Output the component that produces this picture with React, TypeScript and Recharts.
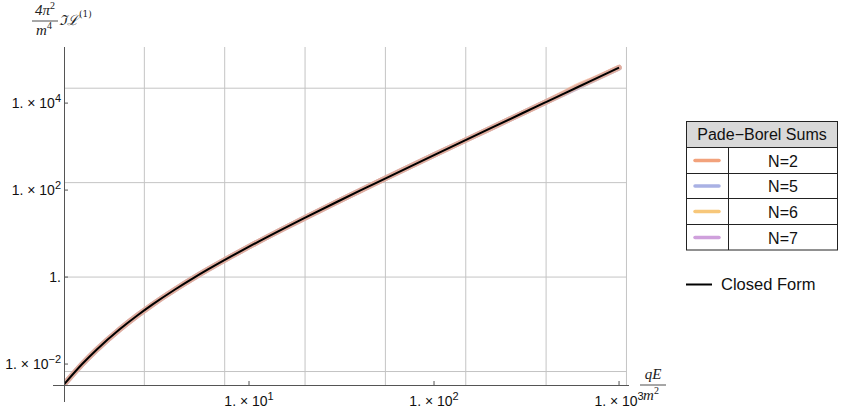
import { LineChart, Line, XAxis, YAxis, ReferenceLine } from 'recharts';

// field strength qE/m^2 (log axis)
const fieldValues = [1, 1.25, 1.5, 2, 2.5, 3, 4, 5, 6, 8, 10, 15, 20, 30, 40, 50, 70, 100, 150, 200, 300, 400, 500, 600, 700, 1000];

// 4pi^2/m^4 Im L(1)
const closedForm = [0.0034, 0.00988, 0.0214, 0.063, 0.1326, 0.2322, 0.525, 0.946, 1.496, 2.986, 4.998, 12.32, 22.91, 53.9, 97.98, 155.2, 308.8, 637.4, 1447, 2584, 5839, 10403, 16276, 23459, 31949, 65277];
const padeN2 = [0.0034, 0.00988, 0.0214, 0.063, 0.1326, 0.2322, 0.525, 0.946, 1.496, 2.986, 4.998, 12.32, 22.91, 53.9, 97.98, 155.2, 308.8, 637.4, 1447, 2584, 5850, 10500, 16900, 25000, 33000, 66000];
const padeN5 = [0.0034, 0.00988, 0.0214, 0.063, 0.1326, 0.2322, 0.525, 0.946, 1.496, 2.986, 4.998, 12.32, 22.91, 53.9, 97.98, 155.2, 308.8, 637.4, 1447, 2584, 5839, 10410, 16300, 23500, 32000, 65300];
const padeN6 = [0.0034, 0.00988, 0.0214, 0.063, 0.1326, 0.2322, 0.525, 0.946, 1.496, 2.986, 4.998, 12.32, 22.91, 53.9, 97.98, 155.2, 308.8, 637.4, 1447, 2584, 5839, 10405, 16290, 23480, 31980, 65300];
const padeN7 = [0.0034, 0.00988, 0.0214, 0.063, 0.1326, 0.2322, 0.525, 0.946, 1.496, 2.986, 4.998, 12.32, 22.91, 53.9, 97.98, 155.2, 308.8, 637.4, 1447, 2584, 5839, 10403, 16280, 23470, 31960, 65280];

const xTicks = [10, 100, 1000];
const yTicks = [0.01, 1, 100, 10000];
// grid lines sit at powers of e
const xGrid = [2.71828, 7.38906, 20.0855, 54.5982, 148.413, 403.429, 1096.63];
const yGrid = [0.0067379, 1, 148.413, 22026.5];

const seriesInfo = [
  { key: 'n2', name: 'N=2', color: '#f2a27c' },
  { key: 'n5', name: 'N=5', color: '#a9b1e4' },
  { key: 'n6', name: 'N=6', color: '#f7c77a' },
  { key: 'n7', name: 'N=7', color: '#cfa0dc' },
];

const data = fieldValues.map((x, i) => ({
  x,
  closed: closedForm[i],
  n2: padeN2[i],
  n5: padeN5[i],
  n6: padeN6[i],
  n7: padeN7[i],
}));

const sans = '"Liberation Sans", Arial, sans-serif';
const serif = '"Liberation Serif", "DejaVu Serif", serif';
const axisColor = '#555';
const gridColor = '#c4c4c4';

function expOf(v: number) {
  return Math.round(Math.log10(v));
}

function XTick({ x, y, payload }: any) {
  return (
    <g>
      <line x1={x} y1={y} x2={x} y2={y - 4} stroke={axisColor} />
      <text x={x} y={y + 21} textAnchor="middle" fontSize={14} fontFamily={sans} fill="#111">
        1. × 10<tspan dy={-6} fontSize={11}>{expOf(payload.value)}</tspan>
      </text>
    </g>
  );
}

function YTick({ x, y, payload }: any) {
  const e = expOf(payload.value);
  return (
    <g>
      <line x1={x} y1={y} x2={x + 4} y2={y} stroke={axisColor} />
      <text x={x - 3} y={y + 5} textAnchor="end" fontSize={14} fontFamily={sans} fill="#111">
        {e === 0 ? '1.' : <>1. × 10<tspan dy={-6} fontSize={11}>{e < 0 ? `−${-e}` : e}</tspan></>}
      </text>
    </g>
  );
}

function Overlay() {
  const rows = [147, 173, 198, 224, 250];
  return (
    <svg width={848} height={414} style={{ position: 'absolute', left: 0, top: 0, pointerEvents: 'none' }}>
      {/* axes */}
      <line x1={53} y1={385.5} x2={629} y2={385.5} stroke={axisColor} />
      <line x1={64.5} y1={47} x2={64.5} y2={402} stroke={axisColor} />

      {/* y label */}
      <g fontFamily={serif} fontStyle="italic" fontSize={15} fill="#222">
        <text x={45} y={15} textAnchor="middle">
          4π<tspan dy={-6} fontSize={10} fontStyle="normal">2</tspan>
        </text>
        <line x1={32} y1={21} x2={58} y2={21} stroke="#222" strokeWidth={0.8} />
        <text x={44} y={35} textAnchor="middle">
          m<tspan dy={-6} fontSize={10} fontStyle="normal">4</tspan>
        </text>
        <text x={59} y={25} fontFamily='"DejaVu Serif", serif' fontSize={14}>
          ℑℒ<tspan dy={-8} fontSize={9} fontStyle="normal">(1)</tspan>
        </text>
      </g>

      {/* x label */}
      <g fontFamily={serif} fontStyle="italic" fontSize={15} fill="#222">
        <text x={653} y={379} textAnchor="middle">qE</text>
        <line x1={640} y1={385} x2={666} y2={385} stroke="#222" strokeWidth={0.8} />
        <text x={651} y={400} textAnchor="middle">
          m<tspan dy={-6} fontSize={10} fontStyle="normal">2</tspan>
        </text>
      </g>

      {/* legend table */}
      <rect x={686.5} y={121.5} width={151} height={26} fill="#d9d9d9" />
      <rect x={686.5} y={121.5} width={151} height={128.5} fill="none" stroke="#222" />
      {rows.slice(0, 4).map((r) => (
        <line key={r} x1={686.5} y1={r + 0.5} x2={837.5} y2={r + 0.5} stroke="#222" />
      ))}
      <line x1={728.5} y1={147.5} x2={728.5} y2={250} stroke="#222" />
      <text x={762} y={140} textAnchor="middle" fontSize={16} fontFamily={sans} fill="#111">
        Pade−Borel Sums
      </text>
      {seriesInfo.map((s, i) => {
        const cy = (rows[i] + rows[i + 1]) / 2 + 0.5;
        return (
          <g key={s.key}>
            <line x1={695} y1={cy} x2={719} y2={cy} stroke={s.color} strokeWidth={3.5} strokeLinecap="round" />
            <text x={783} y={cy + 6} textAnchor="middle" fontSize={16} fontFamily={sans} fill="#111">
              {s.name}
            </text>
          </g>
        );
      })}
      <line x1={686} y1={284.5} x2={712} y2={284.5} stroke="#000" strokeWidth={2} />
      <text x={721} y={290} fontSize={16.5} fontFamily={sans} fill="#111">
        Closed Form
      </text>
    </svg>
  );
}

export default function App() {
  // draw N=2 last so the salmon tone shows on top, as in the original
  const drawOrder = [...seriesInfo].reverse();
  return (
    <div style={{ position: 'absolute', left: 0, top: 0, width: 848, height: 414, background: '#fff' }}>
      <LineChart
        width={848}
        height={414}
        data={data}
        margin={{ top: 47, right: 221.3, bottom: 9, left: 24 }}
      >
        <XAxis
          dataKey="x"
          type="number"
          scale="log"
          domain={[1, 1100]}
          allowDataOverflow
          ticks={xTicks}
          height={20}
          axisLine={false}
          tickLine={false}
          tickSize={0}
          tickMargin={0}
          tick={<XTick />}
          interval={0}
        />
        <YAxis
          type="number"
          scale="log"
          domain={[0.0033, 195000]}
          allowDataOverflow
          ticks={yTicks}
          width={40}
          axisLine={false}
          tickLine={false}
          tickSize={0}
          tickMargin={0}
          tick={<YTick />}
          interval={0}
        />
        {xGrid.map((g) => (
          <ReferenceLine key={`gx${g}`} x={g} stroke={gridColor} strokeWidth={1} ifOverflow="visible" />
        ))}
        {yGrid.map((g) => (
          <ReferenceLine key={`gy${g}`} y={g} stroke={gridColor} strokeWidth={1} ifOverflow="visible" />
        ))}
        {drawOrder.map((s) => (
          <Line
            key={s.key}
            type="monotone"
            dataKey={s.key}
            stroke={s.color}
            strokeOpacity={0.55}
            strokeWidth={5.5}
            strokeLinecap="round"
            dot={false}
            isAnimationActive={false}
          />
        ))}
        <Line
          type="monotone"
          dataKey="closed"
          stroke="#000"
          strokeWidth={2}
          dot={false}
          isAnimationActive={false}
        />
      </LineChart>
      <Overlay />
    </div>
  );
}
